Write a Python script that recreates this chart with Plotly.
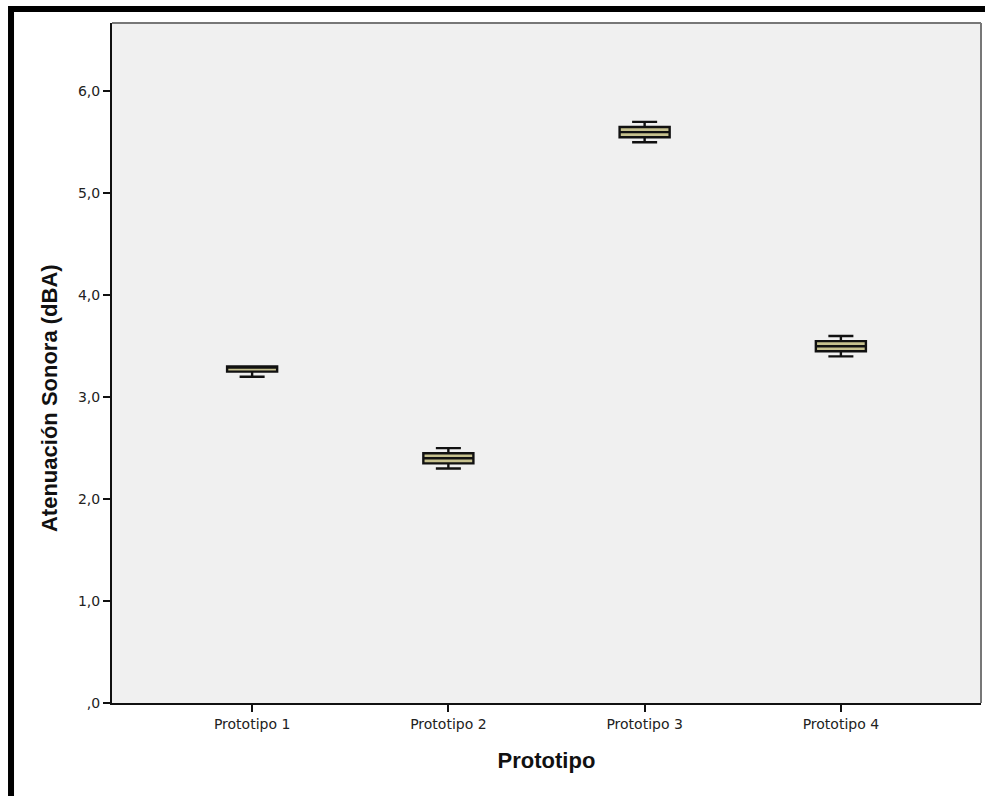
import plotly.graph_objects as go

# Five-number summaries of sound attenuation per prototype (dBA)
prototipos = ["Prototipo 1", "Prototipo 2", "Prototipo 3", "Prototipo 4"]
minimo = [3.20, 2.30, 5.50, 3.40]
q1 = [3.25, 2.35, 5.55, 3.45]
mediana = [3.30, 2.40, 5.60, 3.50]
q3 = [3.30, 2.45, 5.65, 3.55]
maximo = [3.30, 2.50, 5.70, 3.60]

y_ticks = [0, 1, 2, 3, 4, 5, 6]
y_ticktext = [",0", "1,0", "2,0", "3,0", "4,0", "5,0", "6,0"]

fig = go.Figure()
fig.add_trace(go.Box(
    x=prototipos,
    q1=q1,
    median=mediana,
    q3=q3,
    lowerfence=minimo,
    upperfence=maximo,
    width=0.255,
    whiskerwidth=0.5,
    fillcolor="rgb(198,193,142)",
    line=dict(color="#111111", width=2.4),
    boxpoints=False,
    showlegend=False,
    hoverinfo="skip",
))

tick_font = dict(family="DejaVu Sans", size=14, color="#222222")
title_font = dict(family="Liberation Sans", size=22, color="#111111")

fig.update_layout(
    width=985,
    height=796,
    margin=dict(l=112, r=4, t=23, b=93),
    paper_bgcolor="white",
    plot_bgcolor="#f0f0f0",
    xaxis=dict(
        type="category",
        range=[-0.714, 3.714],
        showgrid=False,
        zeroline=False,
        showline=True,
        linecolor="#111111",
        linewidth=2,
        ticks="outside",
        ticklen=7,
        tickwidth=1.5,
        tickcolor="#111111",
        tickfont=tick_font,
        title=dict(text="<b>Prototipo</b>", font=title_font, standoff=22),
    ),
    yaxis=dict(
        range=[0, 6.67],
        tickvals=y_ticks,
        ticktext=y_ticktext,
        showgrid=False,
        zeroline=False,
        showline=True,
        linecolor="#111111",
        linewidth=2,
        ticks="outside",
        ticklen=7,
        tickwidth=1.5,
        tickcolor="#111111",
        tickfont=tick_font,
    ),
    annotations=[
        # vertical axis title, placed left of the tick labels
        dict(text="<b>Atenuación Sonora (dBA)</b>", font=title_font,
             xref="paper", yref="paper", x=-0.0725, y=0.4485,
             xanchor="center", yanchor="middle", textangle=-90,
             showarrow=False),
    ],
    shapes=[
        # grey top and right edges of the plotting area
        dict(type="line", xref="paper", yref="paper", x0=0, y0=1, x1=1, y1=1,
             line=dict(color="#777777", width=2)),
        dict(type="line", xref="paper", yref="paper", x0=1, y0=1, x1=1, y1=0,
             line=dict(color="#777777", width=2)),
        # heavy black frame around the figure
        dict(type="rect", xref="paper", yref="paper",
             x0=-0.1162, y0=1.0206, x1=1.3, y1=-0.5,
             line=dict(color="black", width=6), fillcolor="rgba(0,0,0,0)"),
    ],
)

fig.write_html("out.html")
